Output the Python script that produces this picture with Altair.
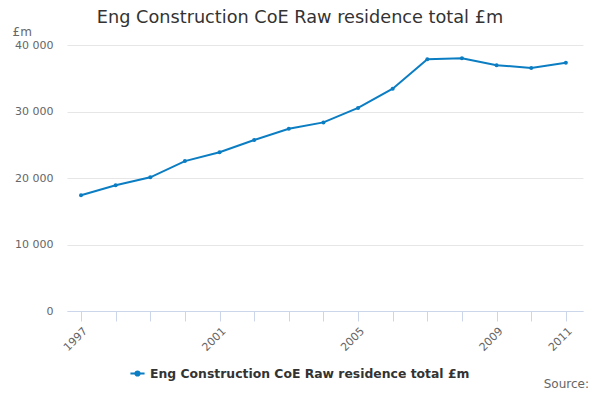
import pandas as pd
import altair as alt

TITLE = "Eng Construction CoE Raw residence total £m"
years = [str(y) for y in range(1997, 2012)]
values = [17400, 18900, 20100, 22540, 23880, 25720, 27400, 28360,
          30540, 33430, 37870, 38020, 36970, 36530, 37330]
shown_years = ["1997", "2001", "2005", "2009", "2011"]
y_ticks = [0, 10000, 20000, 30000, 40000]

LINE = "#0b7dc2"
FONT = "DejaVu Sans"

data = pd.DataFrame({"year": years, "value": values, "series": TITLE})

base = alt.Chart(data).encode(
    x=alt.X(
        "year:O",
        sort=years,
        scale=alt.Scale(type="point", padding=0.45, align=0.45),
        axis=alt.Axis(
            title=None,
            labelAngle=-45,
            labelAlign="right",
            labelBaseline="top",
            labelExpr="indexof(" + str(shown_years) + ", datum.value) >= 0 ? datum.value : ''",
            labelColor="#666666",
            labelFontSize=11,
            labelPadding=4,
            tickColor="#ccd6eb",
            tickSize=10,
            domainColor="#ccd6eb",
            grid=False,
        ),
    ),
    y=alt.Y(
        "value:Q",
        scale=alt.Scale(domain=[0, 40000], nice=False),
        axis=alt.Axis(
            title="£m",
            titleAngle=0,
            titleX=-55,
            titleY=-10,
            titleAlign="left",
            titleBaseline="alphabetic",
            titleFontWeight="normal",
            titleFontSize=12,
            titleColor="#666666",
            values=y_ticks,
            labelExpr="replace(format(datum.value, ','), ',', ' ')",
            labelColor="#666666",
            labelFontSize=11,
            labelPadding=14,
            ticks=False,
            domain=False,
            gridColor="#e6e6e6",
        ),
    ),
    color=alt.Color(
        "series:N",
        scale=alt.Scale(range=[LINE]),
        legend=alt.Legend(
            title=None,
            orient="none",
            legendX=62,
            legendY=320,
            symbolType="M-1,0L1,0M-0.3,0a0.3,0.3 0 1,0 0.6,0a0.3,0.3 0 1,0 -0.6,0",
            symbolSize=200,
            symbolStrokeWidth=2,
            symbolFillColor=LINE,
            labelFontSize=12.4,
            labelFontWeight="bold",
            labelColor="#333333",
            labelLimit=500,
        ),
    ),
)

line = base.mark_line(strokeWidth=2, point=alt.OverlayMarkDef(size=16, filled=True))

source = alt.Chart(pd.DataFrame({"t": ["Source:"]})).mark_text(
    align="right", baseline="alphabetic", fontSize=12, color="#666666", font=FONT
).encode(text="t:N", x=alt.value(522), y=alt.value(343))

chart = (line + source).properties(
    width=516,
    height=266,
    padding={"left": 59, "top": 37, "right": 9, "bottom": 81},
    autosize=alt.AutoSizeParams(type="none"),
    title=alt.TitleParams(
        TITLE, fontSize=17.7, fontWeight="normal", color="#333333",
        anchor="middle", dx=-25, offset=-2, font=FONT,
    ),
).configure(font=FONT).configure_view(stroke=None)

chart.save("out.html", embed_options={"renderer": "svg", "actions": False})
